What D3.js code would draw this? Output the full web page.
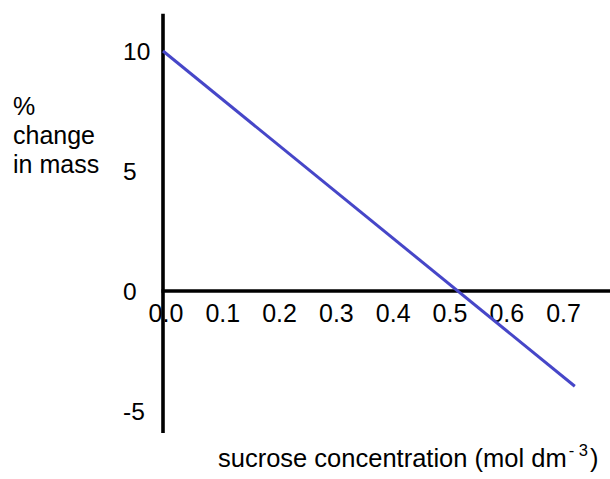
<!DOCTYPE html>
<html>
<head>
<meta charset="utf-8">
<script src="https://cdn.jsdelivr.net/npm/d3@7"></script>
<style>
  html, body { margin: 0; padding: 0; background: #fff; }
  svg { display: block; }
  text { font-family: "Liberation Sans", Arial, sans-serif; fill: #000; }
</style>
</head>
<body>
<svg id="chart" width="610" height="479"></svg>
<script>
// ---- data ----
const concentration = [0, 0.725];          // mol dm^-3
const massChange = [10, -3.97];            // % change in mass
const xTickValues = [0, 0.1, 0.2, 0.3, 0.4, 0.5, 0.6, 0.7];
const yTickValues = [10, 5, 0, -5];
const yAxisTitleLines = ["%", "change", "in mass"];
const xAxisTitle = "sucrose concentration (mol dm";
const xAxisSup = "- 3";

const svg = d3.select("#chart");

const x = d3.scaleLinear().domain([0, 0.7]).range([163, 560.6]);
const y = d3.scaleLinear().domain([0, 10]).range([291, 51]);

// axes lines
svg.append("line")
  .attr("x1", x(0)).attr("x2", x(0))
  .attr("y1", y(11.55)).attr("y2", y(-5.92))
  .attr("stroke", "#000").attr("stroke-width", 3.6);
svg.append("line")
  .attr("x1", x(0) - 1.5).attr("x2", 610)
  .attr("y1", y(0)).attr("y2", y(0))
  .attr("stroke", "#000").attr("stroke-width", 3.4);

// x tick labels
svg.append("g").selectAll("text")
  .data(xTickValues)
  .join("text")
  .attr("x", d => x(d) + 3)
  .attr("y", y(0) + 31)
  .attr("text-anchor", "middle")
  .attr("font-size", 25)
  .text(d => d3.format(".1f")(d));

// y tick labels
svg.append("g").selectAll("text")
  .data(yTickValues)
  .join("text")
  .attr("x", 123)
  .attr("y", d => y(d))
  .attr("dy", "0.35em")
  .attr("font-size", 24.5)
  .text(d => d);

// y axis title
svg.append("g").selectAll("text")
  .data(yAxisTitleLines)
  .join("text")
  .attr("x", 13)
  .attr("y", (d, i) => 115 + i * 29)
  .attr("font-size", 25)
  .text(d => d);

// x axis title
const t = svg.append("text")
  .attr("x", 218).attr("y", 467)
  .attr("font-size", 25.5);
t.append("tspan").text(xAxisTitle);
t.append("tspan").attr("font-size", 16.5).attr("dy", -11).attr("dx", 2).text(xAxisSup);
t.append("tspan").attr("dy", 11).attr("dx", 2).text(")");

// data line
const line = d3.line().x((d, i) => x(concentration[i])).y(d => y(d));
svg.append("path")
  .attr("d", line(massChange))
  .attr("fill", "none")
  .attr("stroke", "#4646c8")
  .attr("stroke-width", 3);
</script>
</body>
</html>
